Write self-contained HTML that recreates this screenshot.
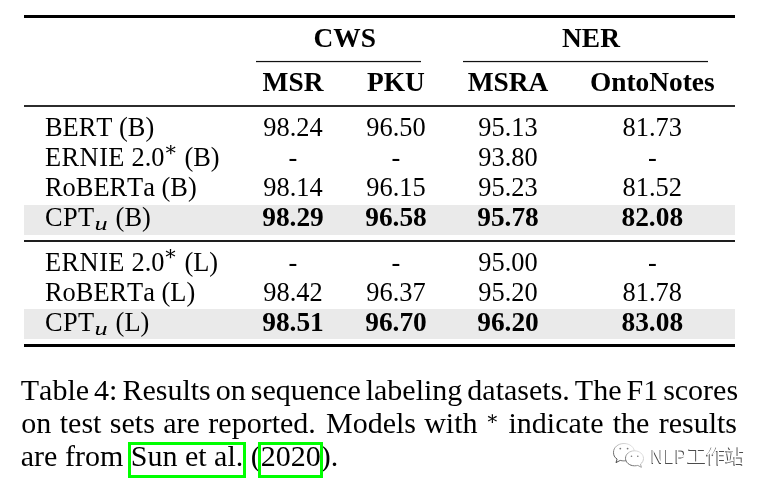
<!DOCTYPE html>
<html><head><meta charset="utf-8">
<style>
html,body{margin:0;padding:0;background:#fff;}
body{width:767px;height:490px;position:relative;overflow:hidden;font-family:"Liberation Serif","Times New Roman",serif;color:#000;font-kerning:none;}
.r{position:absolute;background:#000;}
.cm{background:#111;box-shadow:0 0.6px 0 rgba(0,0,0,0.25),0 -0.6px 0 rgba(0,0,0,0.12);}
.sh{position:absolute;background:#eaeaea;left:24px;width:711px;height:30px;}
.t{position:absolute;font-size:26.4px;line-height:30px;white-space:nowrap;}
.c{transform:translateX(-50%);}
.b{font-weight:bold;font-size:27.4px;}
.ls{letter-spacing:0.45px;}
.ls2{letter-spacing:0.4px;}
.ast{position:absolute;width:20px;height:20px;margin:-10px 0 0 -10px;line-height:20px;text-align:center;font-family:"DejaVu Serif",serif;font-size:20.5px;}
.cap2{position:absolute;width:20px;height:20px;margin:-10px 0 0 -10px;line-height:20px;text-align:center;font-family:"DejaVu Serif",serif;font-size:19.5px;}
.mu{position:absolute;width:20px;height:20px;margin:-10px 0 0 -10px;line-height:20px;text-align:center;font-family:"Liberation Serif",serif;font-style:italic;font-size:18.8px;transform:scaleX(1.4);}
.cap{position:absolute;left:20.8px;width:716.5px;top:375px;font-size:30px;line-height:33px;text-align:justify;text-align-last:justify;white-space:nowrap;}
.bx{position:absolute;box-sizing:border-box;border:3px solid #00ff00;}
.wm{position:absolute;left:651px;top:441.5px;line-height:28px;font-family:"Liberation Sans","Noto Sans CJK SC",sans-serif;font-size:19.6px;color:#fff;text-shadow:-1px 1px 0.5px rgba(0,0,0,0.7);white-space:nowrap;letter-spacing:-0.6px;}
.wml{display:inline-block;font-size:20px;transform:scaleX(0.84);transform-origin:0 0;margin-right:-7.4px;letter-spacing:1.6px;}
</style></head><body>
<div class="r" style="left:24px;top:14.9px;width:710.5px;height:2.9px"></div>
<div class="r cm" style="left:256.4px;top:61px;width:164.6px;height:1px"></div>
<div class="r cm" style="left:462.8px;top:61px;width:245.2px;height:1px"></div>
<div class="r" style="left:24px;top:105px;width:710.5px;height:2px;background:#2c2c2c"></div>
<div class="sh" style="top:205px"></div>
<div class="r" style="left:24px;top:239.6px;width:710.5px;height:2px;background:#1e1e1e"></div>
<div class="sh" style="top:309px"></div>
<div class="r" style="left:24px;top:344.2px;width:710.5px;height:2.6px"></div>

<!-- header -->
<div class="t b c" style="left:344.7px;top:23px">CWS</div>
<div class="t b c" style="left:591px;top:23px">NER</div>
<div class="t b c" style="left:293px;top:67px">MSR</div>
<div class="t b c" style="left:396px;top:67px">PKU</div>
<div class="t b c" style="left:508px;top:67px">MSRA</div>
<div class="t b c" style="left:652.3px;top:67px">OntoNotes</div>

<!-- rows -->
<div class="t" style="left:45px;top:112px">BERT (B)</div>
<div class="t c" style="left:293px;top:112px">98.24</div>
<div class="t c" style="left:396px;top:112px">96.50</div>
<div class="t c" style="left:508px;top:112px">95.13</div>
<div class="t c" style="left:652.3px;top:112px">81.73</div>

<div class="t" style="left:45px;top:142px"><span class="ls">ERNIE</span> 2.0</div>
<div class="ast" style="left:170.9px;top:148.9px">∗</div>
<div class="t" style="left:184.4px;top:142px">(B)</div>
<div class="t c" style="left:293px;top:142px">-</div>
<div class="t c" style="left:396px;top:142px">-</div>
<div class="t c" style="left:508px;top:142px">93.80</div>
<div class="t c" style="left:652.3px;top:142px">-</div>

<div class="t" style="left:45px;top:172px">RoBERTa (B)</div>
<div class="t c" style="left:293px;top:172px">98.14</div>
<div class="t c" style="left:396px;top:172px">96.15</div>
<div class="t c" style="left:508px;top:172px">95.23</div>
<div class="t c" style="left:652.3px;top:172px">81.52</div>

<div class="t" style="left:45px;top:202px"><span class="ls2">CPT</span></div>
<div class="mu" style="left:101.1px;top:223.6px">u</div>
<div class="t" style="left:115.6px;top:202px">(B)</div>
<div class="t b c" style="left:293px;top:202px">98.29</div>
<div class="t b c" style="left:396px;top:202px">96.58</div>
<div class="t b c" style="left:508px;top:202px">95.78</div>
<div class="t b c" style="left:652.3px;top:202px">82.08</div>

<div class="t" style="left:45px;top:247px"><span class="ls">ERNIE</span> 2.0</div>
<div class="ast" style="left:170.8px;top:253.4px">∗</div>
<div class="t" style="left:184.4px;top:247px">(L)</div>
<div class="t c" style="left:293px;top:247px">-</div>
<div class="t c" style="left:396px;top:247px">-</div>
<div class="t c" style="left:508px;top:247px">95.00</div>
<div class="t c" style="left:652.3px;top:247px">-</div>

<div class="t" style="left:45px;top:277px">RoBERTa (L)</div>
<div class="t c" style="left:293px;top:277px">98.42</div>
<div class="t c" style="left:396px;top:277px">96.37</div>
<div class="t c" style="left:508px;top:277px">95.20</div>
<div class="t c" style="left:652.3px;top:277px">81.78</div>

<div class="t" style="left:45px;top:307px"><span class="ls2">CPT</span></div>
<div class="mu" style="left:101.1px;top:328.6px">u</div>
<div class="t" style="left:115.6px;top:307px">(L)</div>
<div class="t b c" style="left:293px;top:307px">98.51</div>
<div class="t b c" style="left:396px;top:307px">96.70</div>
<div class="t b c" style="left:508px;top:307px">96.20</div>
<div class="t b c" style="left:652.3px;top:307px">83.08</div>

<div class="cap" style="top:372.8px;word-spacing:-2.5px;width:715.5px">Table 4: Results on sequence labeling datasets. The F1 scores</div>
<div class="cap" style="top:405.8px;left:21.3px;width:294.5px">on test sets are reported.</div>
<div class="cap" style="top:405.8px;left:326px;width:151.5px">Models with</div>
<div class="cap2" style="left:492.4px;top:418.5px">∗</div>
<div class="cap" style="top:405.8px;left:508.5px;width:228.5px">indicate the results</div>
<div class="cap" style="top:438.7px;text-align:left;text-align-last:left">are from Sun et al. (2020).</div>
<div class="bx" style="left:128px;top:442px;width:118px;height:35.5px"></div>
<div class="bx" style="left:258px;top:442px;width:65px;height:35.5px"></div>

<svg class="wc" width="36" height="30" viewBox="0 0 36 30" style="position:absolute;left:609.7px;top:441px">
<defs><linearGradient id="wg" x1="1" y1="0" x2="0" y2="1"><stop offset="0" stop-color="#eee"/><stop offset="0.45" stop-color="#bbb"/><stop offset="1" stop-color="#333"/></linearGradient></defs>
<g fill="#fff" stroke="url(#wg)" stroke-width="1">
<path d="M14 2.5c6 0 10.5 4 10.5 8.7c0 4.8-4.5 8.7-10.5 8.7c-1.3 0-2.6-.2-3.8-.5l-4.2 2.2l1.1-3.6C4.3 16.4 3.5 14 3.5 11.2C3.5 6.5 8 2.5 14 2.5z"/>
<path d="M24.5 9.8c5 0 9 3.4 9 7.6c0 2.3-1.2 4.3-3 5.7l.9 3.2l-3.6-1.9c-1 .3-2.1.4-3.3.4c-5 0-9-3.4-9-7.5c0-4.2 4-7.5 9-7.5z"/>
</g>
<g fill="#777"><circle cx="10.3" cy="7.6" r="0.9"/><circle cx="17.6" cy="7.6" r="0.9"/><circle cx="21.5" cy="15.3" r="0.8"/><circle cx="27.8" cy="15.3" r="0.8"/></g>
</svg>
<div class="wm"><span class="wml">NLP</span>工作站</div>
</body></html>
